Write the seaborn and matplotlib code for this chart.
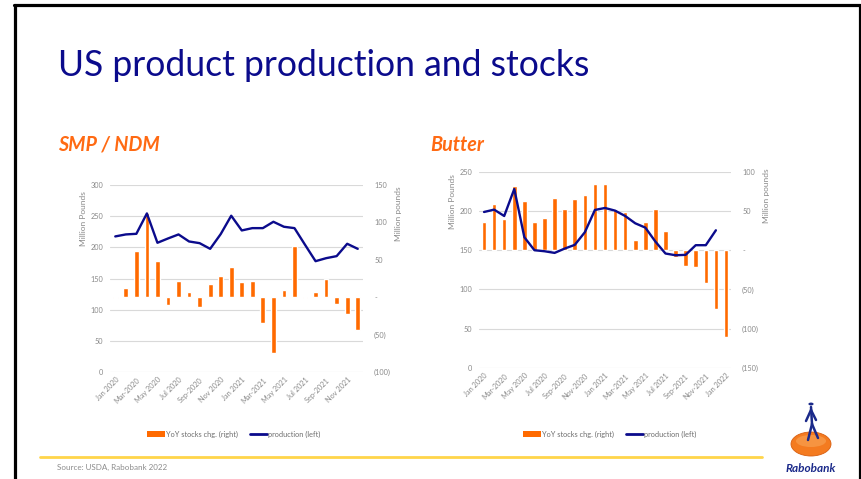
import matplotlib
matplotlib.use("Agg")
import matplotlib.pyplot as plt
import seaborn as sns
import numpy as np
import pandas as pd
from matplotlib.patches import Patch, Ellipse, Circle
from matplotlib.lines import Line2D

# ---------------- data ----------------
smp_stocks_chg = [-1.5, 12, 62, 113, 49, -10, 22, 7, -12.5, 17, 29, 40,
                  20, 21, -34, -74.5, 9.5, 68, -0.7, 7.5, 25, -9.5, -22, -44]
smp_production = [217.5, 220.7, 221.7, 254.4, 207.3, 214.2, 220.7, 209.4, 206.7, 197.6, 221.2, 250.7,
                  227.1, 230.8, 230.8, 241.0, 233.0, 230.8, 204.1, 177.8, 182.6, 185.9, 205.7, 197.6]
smp_xtick_labels = ["Jan 2020", "Mar-2020", "May 2020", "Jul 2020", "Sep-2020", "Nov 2020",
                    "Jan 2021", "Mar-2021", "May 2021", "Jul 2021", "Sep-2021", "Nov 2021"]
smp_left_ticks = [0, 50, 100, 150, 200, 250, 300]
smp_right_ticks = [-100, -50, 0, 50, 100, 150]
smp_right_labels = ["(100)", "(50)", "-", "50", "100", "150"]

butter_stocks_chg = [36.0, 58.5, 39.8, 81.4, 62.3, 36.0, 41.5, 67.0, 53.0, 65.3, 70.8, 83.9,
                     84.7, 53.0, 48.3, 13.1, 36.0, 52.1, 24.6, -8.5, -19.5, -21.2, -41.5, -74.6, -110.6]
butter_production = [198.7, 201.7, 193.6, 228.0, 166.5, 150.0, 148.7, 146.6, 152.1, 156.8, 172.9, 201.3,
                     203.8, 200.4, 193.6, 184.3, 178.8, 161.0, 145.8, 143.6, 144.1, 156.4, 156.4, 175.4]
butter_xtick_labels = ["Jan 2020", "Mar-2020", "May 2020", "Jul 2020", "Sep-2020", "Nov-2020",
                       "Jan 2021", "Mar-2021", "May 2021", "Jul 2021", "Sep-2021", "Nov-2021", "Jan 2022"]
butter_left_ticks = [0, 50, 100, 150, 200, 250]
butter_right_ticks = [-150, -100, -50, 0, 50, 100]
butter_right_labels = ["(150)", "(100)", "(50)", "-", "50", "100"]

legend_labels = ["YoY stocks chg. (right)", "production (left)"]

# ---------------- style ----------------
sns.set_theme(style="white")
plt.rcParams["font.family"] = ["Lato", "DejaVu Sans"]

ORANGE = "#FF6A00"
NAVY = "#0B0B8C"
GRID = "#D9D9D9"
TICK = "#8A8A8A"
W, H = 861, 479

fig = plt.figure(figsize=(W / 100, H / 100), dpi=100)
fig.patch.set_facecolor("white")


def fx(x):
    return x / W


def fy(y):
    return 1 - y / H


def draw_panel(rect, stocks, prod, left_ticks, right_ticks, right_labels, xlabels,
               lab_left_xy, lab_right_xy, legend_cx):
    ax = fig.add_axes(rect)
    ax.set_ylim(left_ticks[0], left_ticks[-1])
    ax.set_yticks(left_ticks)
    ax.set_yticklabels([str(t) for t in left_ticks])
    ax.yaxis.grid(True, color=GRID, lw=0.8)
    ax.xaxis.grid(False)
    ax.set_axisbelow(True)

    # bars on right axis
    axb = ax.twinx()
    dfb = pd.DataFrame({"idx": np.arange(len(stocks)), "chg": stocks})
    sns.barplot(data=dfb, x="idx", y="chg", ax=axb, color=ORANGE, saturation=1,
                width=0.45, errorbar=None)
    axb.set_ylim(right_ticks[0], right_ticks[-1])
    axb.set_yticks(right_ticks)
    axb.set_yticklabels(right_labels)
    axb.grid(False)

    # line on top, left scale
    axl = ax.twinx()
    dfl = pd.DataFrame({"idx": np.arange(len(prod)), "prod": prod})
    sns.lineplot(data=dfl, x="idx", y="prod", ax=axl, color=NAVY, lw=1.7)
    axl.set_ylim(left_ticks[0], left_ticks[-1])
    axl.set_yticks([])
    axl.set_ylabel("")
    axl.grid(False)

    n = len(stocks)
    for a in (ax, axb, axl):
        a.set_xlim(-0.5, n - 0.5)
        for s in a.spines.values():
            s.set_visible(False)
        if a is not ax:
            a.patch.set_visible(False)
    ax.set_xlabel("")
    axb.set_xlabel("")
    axl.set_xlabel("")

    ax.set_xticks(np.arange(0, n, 2))
    ax.set_xticklabels(xlabels, rotation=45, ha="right", rotation_mode="anchor")
    ax.tick_params(axis="x", length=0, pad=3, labelsize=5.3, labelcolor=TICK)
    ax.tick_params(axis="y", length=0, pad=5, labelsize=5.3, labelcolor=TICK)
    axb.tick_params(axis="y", length=0, pad=8, labelsize=5.3, labelcolor=TICK)

    ax.set_ylabel("Million Pounds", fontsize=6, color=TICK)
    ax.yaxis.set_label_coords(*lab_left_xy)
    axb.set_ylabel("Million pounds", fontsize=6, color=TICK)
    axb.yaxis.set_label_coords(*lab_right_xy)

    handles = [Patch(facecolor=ORANGE, edgecolor="none"),
               Line2D([0], [0], color=NAVY, lw=2)]
    fig.legend(handles, legend_labels, loc="center", bbox_to_anchor=(legend_cx, fy(434)),
               ncol=2, frameon=False, fontsize=5.3, labelcolor="#6E6E6E",
               handlelength=2.4, handleheight=0.8, handletextpad=0.15, columnspacing=1.6)
    return ax


# SMP / NDM panel
draw_panel([fx(110), fy(372), fx(253), 187 / H],
           smp_stocks_chg, smp_production, smp_left_ticks, smp_right_ticks, smp_right_labels,
           smp_xtick_labels, (-0.09, 0.82), (1.125, 0.845), fx(234))

# Butter panel
draw_panel([fx(479), fy(368), fx(252), 196.3 / H],
           butter_stocks_chg, butter_production, butter_left_ticks, butter_right_ticks,
           butter_right_labels, butter_xtick_labels, (-0.09, 0.85), (1.127, 0.876), fx(610))

# ---------------- slide decorations ----------------
fig.text(fx(58), fy(76), "US product production and stocks", fontsize=25.6, color=NAVY,
         ha="left", va="baseline")
fig.text(fx(58), fy(145), "SMP / NDM", fontsize=14.2, color="#FF6A13", fontweight="bold",
         fontstyle="italic", ha="left", va="center")
fig.text(fx(430), fy(145), "Butter", fontsize=14.2, color="#FF6A13", fontweight="bold",
         fontstyle="italic", ha="left", va="center")

fig.add_artist(Line2D([fx(40), fx(762)], [fy(457), fy(457)], color="#FFD54A", lw=2))
fig.text(fx(57), fy(467), "Source: USDA, Rabobank 2022", fontsize=5.8, color="#8C8C8C",
         ha="left", va="center")

# frame
fig.add_artist(Line2D([fx(14.5), fx(14.5)], [fy(5), 0], color="black", lw=2.3))
fig.add_artist(Line2D([fx(14), fx(859.5)], [fy(5), fy(5)], color="black", lw=2.3))
fig.add_artist(Line2D([fx(859.5), fx(859.5)], [fy(5), 0], color="black", lw=2.3))

# Rabobank logo (simplified)
fig.add_artist(Ellipse((fx(811), fy(444)), 40 / W, 24 / H, transform=fig.transFigure,
                       facecolor="#F47B20", edgecolor="#D85E10", lw=0.6))
fig.add_artist(Ellipse((fx(811), fy(441)), 30 / W, 12 / H, transform=fig.transFigure,
                       facecolor="#F8A050", edgecolor="none", alpha=0.7))
blue = "#1B2A8A"
fig.add_artist(Circle((fx(811), fy(404)), 2.6 / W, transform=fig.transFigure,
                      facecolor=blue, edgecolor="none"))
for (x1, y1, x2, y2) in [(811, 407, 812, 424), (812, 424, 808, 440), (812, 424, 818, 438),
                         (811, 410, 806, 421), (811, 410, 816, 420)]:
    fig.add_artist(Line2D([fx(x1), fx(x2)], [fy(y1), fy(y2)], color=blue, lw=1.8,
                          solid_capstyle="round"))
fig.text(fx(811), fy(469), "Rabobank", fontsize=8.5, color=blue, fontweight="bold",
         fontstyle="italic", ha="center", va="center")

fig.savefig("out.png", dpi=100, facecolor="white")
